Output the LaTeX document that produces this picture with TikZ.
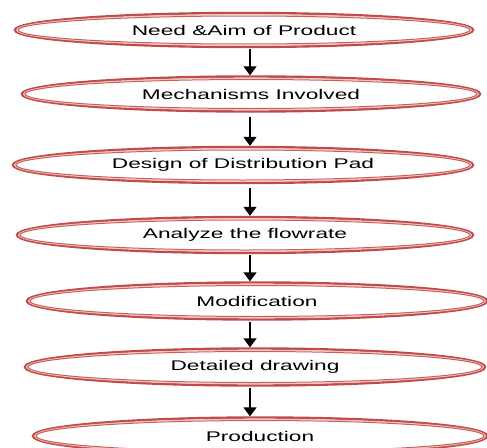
\documentclass[tikz,border=0pt]{standalone}
\usepackage{fontspec}
\newfontfamily\lblfont[FakeStretch=1.62]{Liberation Sans}
\usetikzlibrary{shapes.geometric,arrows.meta}
\definecolor{ered}{RGB}{192,76,74}
\definecolor{epink}{RGB}{238,200,198}
\definecolor{einner}{RGB}{200,95,92}
\tikzset{
  stage/.style={ellipse, draw=ered, line width=2.4pt, fill=white, inner sep=0pt,
    font=\lblfont\fontsize{14}{16}\selectfont, text=black},
  gapline/.style={draw=epink, line width=1.2pt},
  inner/.style={draw=einner, line width=1pt},
  flow/.style={line width=1.6pt, -{Triangle[width=13pt,length=9pt]}}
}
\newcommand{\stagenode}[6]{%
  \node[stage, minimum width=#4pt, minimum height=#5pt] (#1) at (#2,#3) {\raisebox{-1.5pt}{#6}};
  \draw[gapline] (#1.center) ellipse ({#4/2-1.8} and {#5/2-1.8});
  \draw[inner] (#1.center) ellipse ({#4/2-3.0} and {#5/2-3.0});
}
\begin{document}
\begin{tikzpicture}[x=1pt,y=-1pt]
\useasboundingbox (0,0) rectangle (487,447);
\coordinate (ax) at (250,0);
\stagenode{s1}{244}{30}{458}{34}{Need \&Aim of Product}
\stagenode{s2}{251}{94}{458}{35}{Mechanisms Involved}
\stagenode{s3}{243}{165}{460}{36}{Design of Distribution Pad}
\stagenode{s4}{245}{235}{456}{36}{Analyze the flowrate}
\stagenode{s5}{257}{301}{460}{37}{Modification}
\stagenode{s6}{255}{367}{460}{37}{Detailed drawing}
\stagenode{s7}{260}{436}{454}{37}{Production}
\draw[flow] ([yshift=-1pt]s1.south -| ax) -- (s2.north -| ax);
\draw[flow] ([yshift=-4pt]s2.south -| ax) -- (s3.north -| ax);
\draw[flow] ([yshift=-4pt]s3.south -| ax) -- (s4.north -| ax);
\draw[flow] ([yshift=-1pt]s4.south -| ax) -- (s5.north -| ax);
\draw[flow] ([yshift=-1pt]s5.south -| ax) -- (s6.north -| ax);
\draw[flow] ([yshift=-1pt]s6.south -| ax) -- (s7.north -| ax);
\end{tikzpicture}
\end{document}
